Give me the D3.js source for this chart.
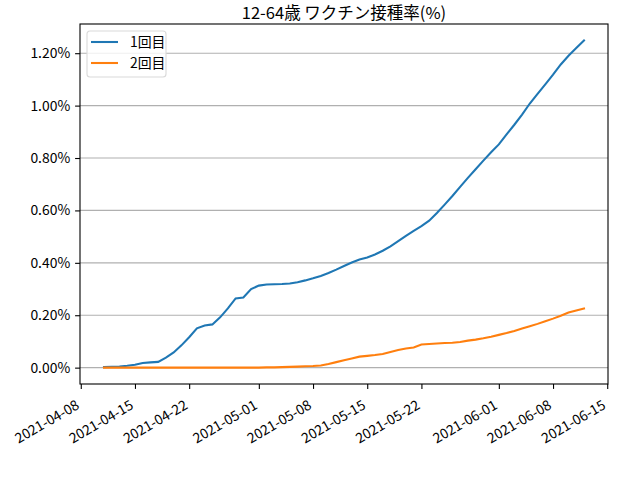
<!DOCTYPE html>
<html>
<head>
<meta charset="utf-8">
<script src="https://cdn.jsdelivr.net/npm/d3@7"></script>
<style>
  body { margin: 0; background: #fff; }
  svg text { font-family: "Noto Sans CJK JP", "DejaVu Sans", sans-serif; fill: #000; }
</style>
</head>
<body>
<svg id="chart" width="640" height="480"></svg>
<script>
// daily cumulative rates (%) from 2021-04-11 to 2021-06-12
var startDate = "2021-04-11";
var dose1 = [
  0.002, 0.003, 0.004, 0.007, 0.011, 0.018, 0.020, 0.022, 0.038, 0.058,
  0.085, 0.116, 0.150, 0.161, 0.165, 0.192, 0.226, 0.264, 0.268, 0.300,
  0.313, 0.317, 0.318, 0.319, 0.321, 0.326, 0.333, 0.341, 0.350, 0.361,
  0.374, 0.388, 0.401, 0.413, 0.420, 0.432, 0.446, 0.463, 0.483, 0.503,
  0.522, 0.540, 0.561, 0.590, 0.622, 0.655, 0.690, 0.724, 0.757, 0.790,
  0.822, 0.852, 0.890, 0.927, 0.966, 1.008, 1.045, 1.081, 1.118, 1.157,
  1.190, 1.220, 1.249
];
var dose2 = [
  0.000, 0.000, 0.000, 0.000, 0.000, 0.000, 0.000, 0.000, 0.000, 0.000,
  0.000, 0.000, 0.000, 0.000, 0.000, 0.000, 0.000, 0.000, 0.000, 0.000,
  0.000, 0.001, 0.001, 0.002, 0.003, 0.004, 0.005, 0.006, 0.008, 0.014,
  0.021, 0.028, 0.035, 0.042, 0.045, 0.048, 0.052, 0.060, 0.067, 0.073,
  0.077, 0.088, 0.090, 0.092, 0.094, 0.095, 0.098, 0.103, 0.107, 0.112,
  0.118, 0.125, 0.132, 0.140, 0.149, 0.158, 0.167, 0.177, 0.187, 0.198,
  0.210, 0.218, 0.226
];
var seriesNames = ["1回目", "2回目"];
var seriesColors = ["#1f77b4", "#ff7f0e"];
var tickDates = ["2021-04-08", "2021-04-15", "2021-04-22", "2021-05-01", "2021-05-08",
                 "2021-05-15", "2021-05-22", "2021-06-01", "2021-06-08", "2021-06-15"];
var yTicks = [0, 0.2, 0.4, 0.6, 0.8, 1.0, 1.2];
var title = "12-64歳 ワクチン接種率(%)";

var parse = d3.utcParse("%Y-%m-%d");
var fmt = d3.utcFormat("%Y-%m-%d");
var t0 = parse(startDate);
var dates = dose1.map(function(d, i) { return d3.utcDay.offset(t0, i); });

var margin = {left: 80, right: 32, top: 24, bottom: 96};
var W = 640, H = 480;
var svg = d3.select("#chart");

// matplotlib style 5% padding on the data extent
function pad(lo, hi) {
  var m = (hi - lo) * 0.05;
  return [lo - m, hi + m];
}
var xt = pad(+dates[0], +dates[dates.length - 1]);
var x = d3.scaleUtc().domain([new Date(xt[0]), new Date(xt[1])])
  .range([margin.left, W - margin.right]);
var allVals = dose1.concat(dose2);
var y = d3.scaleLinear().domain(pad(d3.min(allVals), d3.max(allVals)))
  .range([H - margin.bottom, margin.top]);

// grid
svg.append("g").selectAll("line").data(yTicks).join("line")
  .attr("x1", margin.left).attr("x2", W - margin.right)
  .attr("y1", function(d) { return y(d); }).attr("y2", function(d) { return y(d); })
  .attr("stroke", "#b0b0b0").attr("stroke-width", 1.1);

// lines
var line = d3.line()
  .x(function(d, i) { return x(dates[i]); })
  .y(function(d) { return y(d); });
[dose1, dose2].forEach(function(s, k) {
  svg.append("path").datum(s)
    .attr("d", line)
    .attr("fill", "none")
    .attr("stroke", seriesColors[k])
    .attr("stroke-width", 2.08)
    .attr("stroke-linecap", "square");
});

// frame
svg.append("rect")
  .attr("x", margin.left).attr("y", margin.top)
  .attr("width", W - margin.left - margin.right)
  .attr("height", H - margin.top - margin.bottom)
  .attr("fill", "none").attr("stroke", "#000").attr("stroke-width", 1.1);

// y axis
var yAxis = svg.append("g")
  .attr("transform", "translate(" + margin.left + ",0)")
  .call(d3.axisLeft(y).tickValues(yTicks).tickSize(4.9).tickPadding(4.9)
    .tickFormat(function(d) { return d.toFixed(2) + "%"; }));
yAxis.select(".domain").remove();
yAxis.selectAll("line").attr("stroke-width", 1.1);
yAxis.selectAll("text").attr("font-size", "13.9px")
  .attr("font-family", "'Noto Sans CJK JP', sans-serif");

// x axis
var xAxis = svg.append("g")
  .attr("transform", "translate(0," + (H - margin.bottom) + ")")
  .call(d3.axisBottom(x).tickValues(tickDates.map(parse)).tickSize(4.9).tickFormat(fmt));
xAxis.select(".domain").remove();
xAxis.selectAll("line").attr("stroke-width", 1.1);
xAxis.selectAll("text")
  .attr("font-size", "13.9px")
  .attr("font-family", "'Noto Sans CJK JP', sans-serif")
  .attr("text-anchor", "end")
  .attr("dy", null)
  .attr("y", 0)
  .attr("transform", "translate(-1,24) rotate(-30)");

// title
svg.append("text")
  .attr("x", (margin.left + W - margin.right) / 2)
  .attr("y", 19)
  .attr("text-anchor", "middle")
  .attr("font-size", "16.5px")
  .text(title);

// legend
var lg = svg.append("g").attr("transform", "translate(87,31)");
lg.append("rect")
  .attr("width", 79).attr("height", 46).attr("rx", 3)
  .attr("fill", "#fff").attr("fill-opacity", 0.8)
  .attr("stroke", "#d9d9d9").attr("stroke-width", 1.1);
seriesNames.forEach(function(name, k) {
  var yy = 11 + k * 21;
  lg.append("line")
    .attr("x1", 4).attr("x2", 31).attr("y1", yy).attr("y2", yy)
    .attr("stroke", seriesColors[k]).attr("stroke-width", 2.08);
  lg.append("text")
    .attr("x", 43).attr("y", yy + 5)
    .attr("font-size", "13.9px")
    .text(name);
});
</script>
</body>
</html>
